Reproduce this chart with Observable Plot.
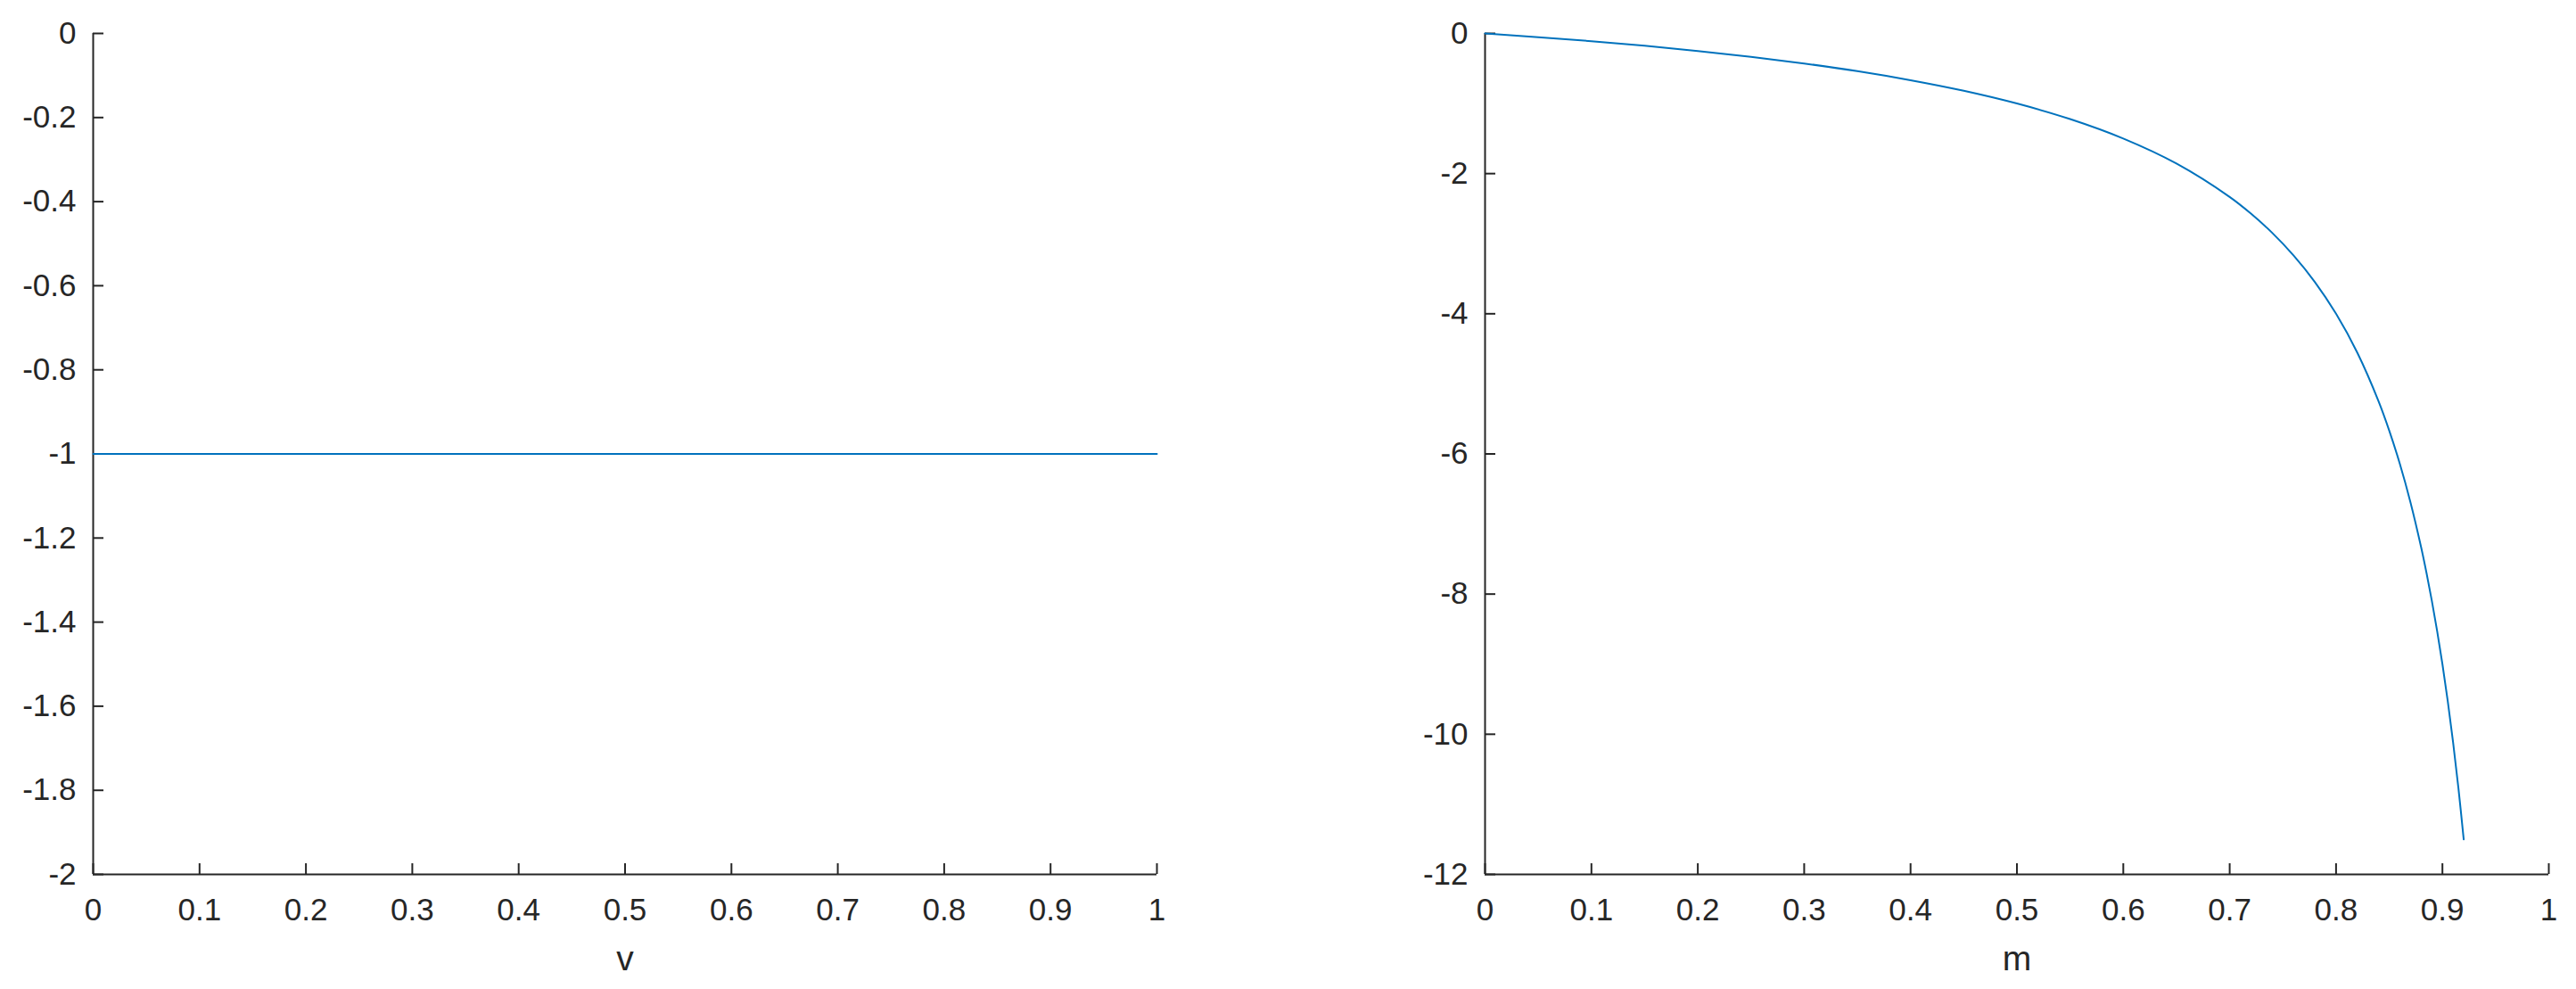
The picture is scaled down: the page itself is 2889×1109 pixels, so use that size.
<!DOCTYPE html>
<html>
<head>
<meta charset="utf-8">
<script src="https://cdn.jsdelivr.net/npm/d3@7"></script>
<script src="https://cdn.jsdelivr.net/npm/@observablehq/plot@0.6"></script>
<style>
  html, body { margin: 0; padding: 0; background: #fff; }
  #wrap { display: flex; width: 2889px; height: 1109px; }
</style>
</head>
<body>
<div id="wrap"></div>
<script>
// ---- Data ----
// Left panel: constant series over v
const leftV = [0, 1];
const leftY = [-1, -1];
// Right panel: curve over m
const rightM = [0, 0.05, 0.1, 0.15, 0.2, 0.25, 0.3, 0.35, 0.4, 0.45, 0.5, 0.55, 0.6, 0.65, 0.7, 0.72, 0.74, 0.76, 0.78, 0.8, 0.82, 0.84, 0.85, 0.86, 0.87, 0.88, 0.885, 0.89, 0.895, 0.9, 0.905, 0.91, 0.915, 0.92];
const rightY = [0, -0.053, -0.111, -0.176, -0.25, -0.333, -0.429, -0.538, -0.667, -0.818, -1.0, -1.222, -1.5, -1.857, -2.333, -2.571, -2.846, -3.167, -3.545, -4.0, -4.556, -5.25, -5.667, -6.143, -6.692, -7.333, -7.696, -8.091, -8.524, -9.0, -9.526, -10.111, -10.765, -11.5];
// Ticks
const xTicks = [0, 0.1, 0.2, 0.3, 0.4, 0.5, 0.6, 0.7, 0.8, 0.9, 1];
const xTickLabels = ["0", "0.1", "0.2", "0.3", "0.4", "0.5", "0.6", "0.7", "0.8", "0.9", "1"];
const leftYTicks = [0, -0.2, -0.4, -0.6, -0.8, -1, -1.2, -1.4, -1.6, -1.8, -2];
const leftYTickLabels = ["0", "-0.2", "-0.4", "-0.6", "-0.8", "-1", "-1.2", "-1.4", "-1.6", "-1.8", "-2"];
const rightYTicks = [0, -2, -4, -6, -8, -10, -12];
const rightYTickLabels = ["0", "-2", "-4", "-6", "-8", "-10", "-12"];
const xLabels = ["v", "m"];

const AX = "#262626";
const LINE = "#0072BD";
const FONT = "'Liberation Sans', Arial, Helvetica, sans-serif";

function labeler(ticks, labels) {
  const m = new Map(ticks.map((t, i) => [t, labels[i]]));
  return d => m.get(d) ?? String(d);
}

function panel({width, marginLeft, marginRight, xDomain, yDomain, yTicks, yTickLabels, xs, ys, label}) {
  const data = xs.map((x, i) => ({x, y: ys[i]}));
  return Plot.plot({
    width, height: 1109,
    marginLeft, marginRight, marginTop: 37, marginBottom: 129,
    style: {fontFamily: FONT, fontSize: "35px", color: AX, background: "#fff", overflow: "visible"},
    x: {domain: xDomain},
    y: {domain: yDomain},
    marks: [
      Plot.ruleX([xDomain[0]], {stroke: AX, strokeWidth: 2}),
      Plot.ruleY([yDomain[0]], {stroke: AX, strokeWidth: 2}),
      Plot.axisX({ticks: xTicks, tickSize: -12, tickPadding: 39, tickFormat: labeler(xTicks, xTickLabels), stroke: AX, strokeWidth: 2, fill: AX, label: null}),
      Plot.axisY({ticks: yTicks, tickSize: -12, tickPadding: 31, tickFormat: labeler(yTicks, yTickLabels), stroke: AX, strokeWidth: 2, fill: AX, label: null}),
      Plot.line(data, {x: "x", y: "y", stroke: LINE, strokeWidth: 2, curve: "catmull-rom"}),
      Plot.text([label], {text: d => d, frameAnchor: "bottom", dy: 107, lineAnchor: "bottom", fontSize: 39, fill: AX})
    ]
  });
}

const wrap = document.getElementById("wrap");
wrap.append(panel({
  width: 1444, marginLeft: 104, marginRight: 147,
  xDomain: [0, 1], yDomain: [-2, 0],
  yTicks: leftYTicks, yTickLabels: leftYTickLabels,
  xs: leftV, ys: leftY, label: xLabels[0]
}));
wrap.append(panel({
  width: 1445, marginLeft: 221, marginRight: 31,
  xDomain: [0, 1], yDomain: [-12, 0],
  yTicks: rightYTicks, yTickLabels: rightYTickLabels,
  xs: rightM, ys: rightY, label: xLabels[1]
}));
</script>
</body>
</html>
